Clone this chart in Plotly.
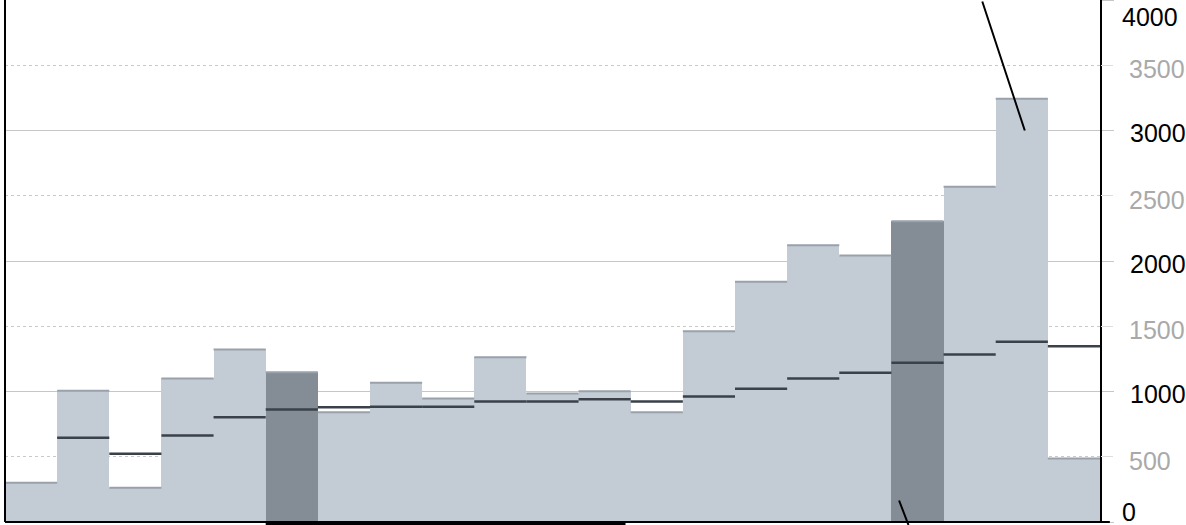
import plotly.graph_objects as go

# ---- data ----
bar_values = [300, 1005, 263, 1100, 1322, 1148, 841, 1067, 946, 1263, 985,
              1002, 841, 1462, 1841, 2121, 2042, 2305, 2569, 3243, 487]
step_values = [None, 645, 523, 663, 803, 862, 880, 884, 884, 923, 923,
               941, 923, 962, 1021, 1100, 1143, 1220, 1284, 1381, 1347]
highlighted = [5, 17]
major_ticks = [0, 1000, 2000, 3000, 4000]
minor_ticks = [500, 1500, 2500, 3500]

LIGHT = "#c3cbd5"
DARK = "#848c95"
FONT = "Liberation Sans, Arial, sans-serif"

n = len(bar_values)
xs = list(range(n))
colors = [DARK if i in highlighted else LIGHT for i in xs]


def segments(vals):
    sx, sy = [], []
    for i, v in enumerate(vals):
        if v is None:
            continue
        sx += [i - 0.5, i + 0.5, None]
        sy += [v, v, None]
    return sx, sy


fig = go.Figure()
fig.add_trace(go.Bar(x=xs, y=bar_values, marker=dict(color=colors, line=dict(width=0)),
                     hoverinfo="skip", showlegend=False))
tx, ty = segments(bar_values)
fig.add_trace(go.Scatter(x=tx, y=ty, mode="lines", line=dict(color="#99a1aa", width=2),
                         hoverinfo="skip", showlegend=False))
sx, sy = segments(step_values)
fig.add_trace(go.Scatter(x=sx, y=sy, mode="lines", line=dict(color="#3a4149", width=2.5),
                         hoverinfo="skip", showlegend=False))
# dummy trace to carry the secondary (minor) axis
fig.add_trace(go.Scatter(x=[None], y=[None], yaxis="y2", hoverinfo="skip", showlegend=False))

major_text = ["" if v in (0, 4000) else str(v) for v in major_ticks]
minor_text = ['<span style="color:#a9a9a9">%d</span>' % v for v in minor_ticks]

fig.update_layout(
    width=1186, height=525,
    margin=dict(l=5, r=86, t=0, b=3, autoexpand=False),
    paper_bgcolor="white", plot_bgcolor="white",
    bargap=0,
    font=dict(family=FONT, size=25, color="black"),
    xaxis=dict(range=[-0.5, n - 0.5], showticklabels=False, showgrid=False,
               zeroline=False, ticks="", fixedrange=True),
    yaxis=dict(side="right", range=[0, 4000], tickvals=major_ticks, ticktext=major_text,
               showgrid=True, gridcolor="#c6c6c6", gridwidth=1,
               ticks="outside", ticklen=12, tickcolor="#c6c6c6",
               showline=True, linecolor="black", linewidth=2,
               zeroline=False, ticklabelstandoff=11, ticklabelshift=3, automargin=False,
               tickfont=dict(family=FONT, size=25, color="black")),
    yaxis2=dict(overlaying="y", side="right", range=[0, 4000], tickvals=minor_ticks,
                ticktext=minor_text, showgrid=True, gridcolor="#c9c9c9", griddash="dot",
                gridwidth=1, ticks="outside", ticklen=12, tickcolor="#dddddd",
                showline=False, zeroline=False, ticklabelstandoff=11, ticklabelshift=4,
                automargin=False,
                tickfont=dict(family=FONT, size=25, color="#a9a9a9")),
)

# end tick labels pushed inside the frame, as in the reference
fig.add_annotation(x=1, xref="paper", y=0, yref="y", text="0", showarrow=False,
                   xanchor="left", yanchor="middle", xshift=20, yshift=10,
                   font=dict(family=FONT, size=25, color="black"))
fig.add_annotation(x=1, xref="paper", y=4000, yref="y", text="4000", showarrow=False,
                   xanchor="left", yanchor="middle", xshift=20, yshift=-17,
                   font=dict(family=FONT, size=25, color="black"))

# callout lines
fig.add_annotation(x=19, y=3000, xref="x", yref="y", text="", showarrow=True,
                   arrowhead=0, arrowwidth=2, arrowcolor="black",
                   ax=-43, ay=-135, xshift=3)
fig.add_annotation(x=17, y=0, xref="x", yref="y", text="", showarrow=True,
                   arrowhead=0, arrowwidth=2, arrowcolor="black",
                   ax=-10, ay=-26, xshift=-9, yshift=-3)

# frame: left border, bottom line, and the scroll indicator strip
fig.add_shape(type="line", xref="paper", yref="paper", x0=0, x1=0, y0=0, y1=1,
              line=dict(color="black", width=2))
fig.add_shape(type="line", xref="paper", yref="paper", x0=0, x1=1.009, y0=0, y1=0,
              line=dict(color="black", width=2))
fig.add_shape(type="rect", xref="x", yref="paper", x0=4.5, x1=11.4, y0=-0.006, y1=0,
              line=dict(width=0), fillcolor="black")

fig.write_html(
    "out.html",
    config={"displayModeBar": False},
    post_script="document.body.style.margin='0';document.body.style.overflow='hidden';",
)
